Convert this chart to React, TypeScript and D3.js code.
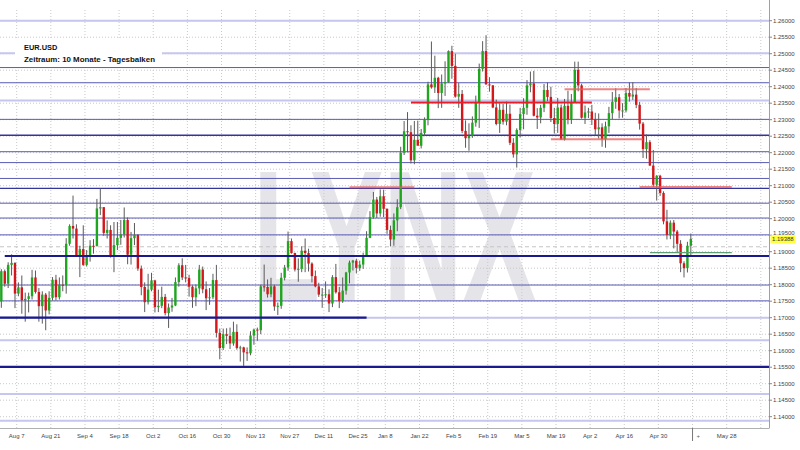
import React from "react";
import * as d3 from "d3";

// ---- data (EUR/USD daily candles, from 2017-07-31) ----
const startDate = "2017-07-31";
const holidays = ["2017-12-25", "2018-01-01"];

const opens = [
1.1750,1.1841,1.1803,1.1860,1.1866,1.1773,1.1792,1.1753,1.1757,1.1765,1.1822,1.1778,1.1735,1.1770,1.1722,1.1760,1.1815,1.1762,1.1800,1.1799,
1.1924,1.1978,1.1970,1.1888,1.1908,1.1860,1.1888,1.1918,1.1917,1.2031,1.2035,1.1957,1.1966,1.1887,1.1920,1.1942,1.1953,1.1996,1.1891,1.1941,
1.1951,1.1849,1.1793,1.1747,1.1785,1.1813,1.1732,1.1736,1.1763,1.1714,1.1731,1.1737,1.1808,1.1859,1.1822,1.1820,1.1794,1.1762,1.1789,1.1846,
1.1786,1.1759,1.1762,1.1814,1.1654,1.1608,1.1650,1.1645,1.1622,1.1657,1.1608,1.1610,1.1595,1.1592,1.1646,1.1664,1.1662,1.1795,1.1793,1.1771,
1.1795,1.1734,1.1736,1.1821,1.1852,1.1932,1.1896,1.1846,1.1848,1.1903,1.1896,1.1864,1.1826,1.1795,1.1770,1.1770,1.1771,1.1743,1.1823,1.1777,
1.1750,1.1782,1.1837,1.1867,1.1873,1.1851,1.1861,1.1889,1.1942,1.2005,1.2058,1.2016,1.2068,1.2030,1.1966,1.1937,1.1995,1.2035,1.2200,1.2265,
1.2262,1.2177,1.2239,1.2221,1.2260,1.2300,1.2407,1.2398,1.2427,1.2381,1.2410,1.2414,1.2508,1.2463,1.2370,1.2378,1.2266,1.2244,1.2251,1.2291,
1.2352,1.2454,1.2508,1.2407,1.2404,1.2337,1.2287,1.2330,1.2294,1.2318,1.2230,1.2195,1.2269,1.2317,1.2336,1.2404,1.2410,1.2312,1.2307,1.2336,
1.2390,1.2369,1.2305,1.2287,1.2337,1.2240,1.2342,1.2302,1.2353,1.2451,1.2404,1.2306,1.2322,1.2325,1.2301,1.2271,1.2277,1.2241,1.2280,1.2320,
1.2354,1.2368,1.2328,1.2328,1.2381,1.2370,1.2376,1.2345,1.2288,1.2211,1.2232,1.2161,1.2103,1.2130,1.2078,1.1992,1.1951,1.1988,1.1961,1.1924,
1.1865,1.1850,1.1918];
const highs = [
1.1847,1.1846,1.1868,1.1892,1.1868,1.1807,1.1828,1.1776,1.1776,1.1845,1.1843,1.1790,1.1780,1.1775,1.1780,1.1823,1.1830,1.1822,1.1828,1.1941,
1.1983,1.2070,1.1983,1.1918,1.1980,1.1905,1.1935,1.1938,1.2060,1.2092,1.2035,1.1995,1.1980,1.1990,1.1990,1.1996,1.2034,1.2004,1.1960,1.1987,
1.1953,1.1858,1.1807,1.1833,1.1836,1.1815,1.1785,1.1794,1.1772,1.1743,1.1760,1.1822,1.1865,1.1880,1.1860,1.1830,1.1798,1.1800,1.1860,1.1855,
1.1810,1.1790,1.1833,1.1860,1.1667,1.1667,1.1668,1.1670,1.1688,1.1680,1.1615,1.1612,1.1610,1.1659,1.1667,1.1670,1.1800,1.1861,1.1816,1.1821,
1.1800,1.1746,1.1836,1.1860,1.1961,1.1940,1.1897,1.1880,1.1916,1.1940,1.1909,1.1868,1.1843,1.1806,1.1790,1.1810,1.1786,1.1829,1.1863,1.1793,
1.1822,1.1839,1.1873,1.1875,1.1879,1.1873,1.1897,1.1962,1.2023,1.2081,1.2066,1.2089,1.2088,1.2031,1.1979,1.2016,1.2059,1.2218,1.2296,1.2323,
1.2283,1.2296,1.2297,1.2272,1.2307,1.2415,1.2537,1.2494,1.2430,1.2437,1.2477,1.2510,1.2524,1.2500,1.2411,1.2390,1.2298,1.2289,1.2310,1.2373,
1.2470,1.2538,1.2556,1.2429,1.2405,1.2361,1.2350,1.2348,1.2355,1.2346,1.2244,1.2274,1.2336,1.2365,1.2420,1.2446,1.2448,1.2335,1.2345,1.2408,
1.2413,1.2400,1.2336,1.2366,1.2346,1.2363,1.2388,1.2378,1.2476,1.2476,1.2409,1.2343,1.2336,1.2345,1.2321,1.2319,1.2289,1.2294,1.2339,1.2384,
1.2395,1.2378,1.2350,1.2396,1.2413,1.2414,1.2396,1.2354,1.2293,1.2255,1.2238,1.2208,1.2132,1.2133,1.2083,1.2027,1.1995,1.1996,1.1966,1.1935,
1.1871,1.1930,1.1955];
const lows = [
1.1730,1.1794,1.1790,1.1828,1.1729,1.1765,1.1712,1.1688,1.1716,1.1755,1.1773,1.1688,1.1682,1.1662,1.1710,1.1752,1.1752,1.1755,1.1780,1.1773,
1.1918,1.1940,1.1886,1.1823,1.1857,1.1855,1.1870,1.1894,1.1916,1.2011,1.1948,1.1940,1.1882,1.1838,1.1905,1.1921,1.1943,1.1862,1.1861,1.1920,
1.1842,1.1768,1.1717,1.1740,1.1780,1.1716,1.1717,1.1729,1.1707,1.1669,1.1718,1.1735,1.1794,1.1814,1.1807,1.1764,1.1730,1.1735,1.1771,1.1774,
1.1723,1.1739,1.1756,1.1640,1.1574,1.1602,1.1620,1.1605,1.1615,1.1603,1.1567,1.1554,1.1569,1.1586,1.1618,1.1630,1.1650,1.1779,1.1761,1.1762,
1.1721,1.1708,1.1727,1.1813,1.1842,1.1894,1.1840,1.1809,1.1838,1.1838,1.1840,1.1807,1.1792,1.1763,1.1730,1.1760,1.1717,1.1732,1.1773,1.1729,
1.1745,1.1770,1.1804,1.1843,1.1834,1.1842,1.1848,1.1884,1.1941,1.2000,1.2002,1.2006,1.2005,1.1954,1.1916,1.1918,1.1962,1.2029,1.2193,1.2201,
1.2167,1.2165,1.2224,1.2213,1.2250,1.2283,1.2394,1.2381,1.2335,1.2336,1.2372,1.2412,1.2424,1.2367,1.2336,1.2259,1.2215,1.2206,1.2245,1.2279,
1.2275,1.2446,1.2406,1.2385,1.2335,1.2283,1.2260,1.2285,1.2283,1.2223,1.2185,1.2155,1.2246,1.2271,1.2315,1.2383,1.2310,1.2272,1.2289,1.2323,
1.2356,1.2293,1.2258,1.2260,1.2240,1.2237,1.2286,1.2287,1.2351,1.2386,1.2303,1.2287,1.2305,1.2284,1.2254,1.2243,1.2218,1.2215,1.2260,1.2302,
1.2333,1.2304,1.2306,1.2322,1.2355,1.2360,1.2335,1.2270,1.2184,1.2182,1.2160,1.2096,1.2055,1.2069,1.1983,1.1937,1.1938,1.1910,1.1897,1.1838,
1.1822,1.1837,1.1885];
const closes = [
1.1841,1.1803,1.1860,1.1866,1.1773,1.1792,1.1753,1.1757,1.1765,1.1822,1.1778,1.1735,1.1770,1.1722,1.1760,1.1815,1.1762,1.1800,1.1799,1.1924,
1.1978,1.1970,1.1888,1.1908,1.1860,1.1888,1.1918,1.1917,1.2031,1.2035,1.1957,1.1966,1.1887,1.1920,1.1942,1.1953,1.1996,1.1891,1.1941,1.1951,
1.1849,1.1793,1.1747,1.1785,1.1813,1.1732,1.1736,1.1763,1.1714,1.1731,1.1737,1.1808,1.1859,1.1822,1.1820,1.1794,1.1762,1.1789,1.1846,1.1786,
1.1759,1.1762,1.1814,1.1654,1.1608,1.1650,1.1645,1.1622,1.1657,1.1608,1.1610,1.1595,1.1592,1.1646,1.1664,1.1662,1.1795,1.1793,1.1771,1.1795,
1.1734,1.1736,1.1821,1.1852,1.1932,1.1896,1.1846,1.1848,1.1903,1.1896,1.1864,1.1826,1.1795,1.1770,1.1770,1.1771,1.1743,1.1823,1.1777,1.1750,
1.1782,1.1837,1.1867,1.1873,1.1851,1.1861,1.1889,1.1942,1.2005,1.2058,1.2016,1.2068,1.2030,1.1966,1.1937,1.1995,1.2035,1.2200,1.2265,1.2262,
1.2177,1.2239,1.2221,1.2260,1.2300,1.2407,1.2398,1.2427,1.2381,1.2410,1.2414,1.2508,1.2463,1.2370,1.2378,1.2266,1.2244,1.2251,1.2291,1.2352,
1.2454,1.2508,1.2407,1.2404,1.2337,1.2287,1.2330,1.2294,1.2318,1.2230,1.2195,1.2269,1.2317,1.2336,1.2404,1.2410,1.2312,1.2307,1.2336,1.2390,
1.2369,1.2305,1.2287,1.2337,1.2240,1.2342,1.2302,1.2353,1.2451,1.2404,1.2306,1.2322,1.2325,1.2301,1.2271,1.2277,1.2241,1.2280,1.2320,1.2354,
1.2368,1.2328,1.2328,1.2381,1.2370,1.2376,1.2345,1.2288,1.2211,1.2232,1.2161,1.2103,1.2130,1.2078,1.1992,1.1951,1.1988,1.1961,1.1924,1.1865,
1.1850,1.1918,1.1939];

const lastPrice = 1.19388;

const tickLabels = ["Aug 7","Aug 21","Sep 4","Sep 18","Oct 2","Oct 16","Oct 30","Nov 13","Nov 27","Dec 11","Dec 25","Jan 8","Jan 22","Feb 5","Feb 19","Mar 5","Mar 19","Apr 2","Apr 16","Apr 30","","May 28",""];
const tickDates = ["2017-08-07","2017-08-21","2017-09-04","2017-09-18","2017-10-02","2017-10-16","2017-10-30","2017-11-13","2017-11-27","2017-12-11","2017-12-25","2018-01-08","2018-01-22","2018-02-05","2018-02-19","2018-03-05","2018-03-19","2018-04-02","2018-04-16","2018-04-30","2018-05-14","2018-05-28","2018-06-11"];
const markerDate = "2018-05-14";

const priceTicks = [1.26,1.255,1.25,1.245,1.24,1.235,1.23,1.225,1.22,1.215,1.21,1.205,1.2,1.195,1.19,1.185,1.18,1.175,1.17,1.165,1.16,1.155,1.15,1.145,1.14];

// horizontal drawn levels (price, kind)
const levelPrices = [1.2600,1.2501,1.2358,1.1700,1.1632,1.1469,1.1388, 1.2458,1.2412,1.2301,1.2203,1.2170,1.2122,1.2047,1.2002,1.1951,1.1799,1.1751, 1.2253,1.2092];
const levelKinds = ["lav","lav","lav","lav","lav","lav","lav","blue","blue","blue","blue","blue","blue","blue","blue","blue","blue","blue","dark","dark"];

// segments: price, from date, to date (null = chart edge), kind
const segPrices = [1.1887, 1.1551, 1.1700, 1.2095, 1.2352, 1.2392, 1.2241, 1.2096, 1.1897, 1.1915];
const segFrom = ["2017-08-01", null, null, "2017-12-20", "2018-01-17", "2018-03-21", "2018-03-15", "2018-04-20", "2018-04-25", null];
const segTo = [null, null, "2017-12-28", "2018-01-18", "2018-04-02", "2018-04-25", "2018-04-23", "2018-05-29", "2018-05-29", null];
const segKinds = ["navy", "navy", "navy", "lightred", "red", "lightred", "lightred", "lightred", "green", "dash"];

const styles: Record<string, { stroke: string; width: number; dash?: string; opacity?: number }> = {
  lav: { stroke: "#c6c6ee", width: 2 },
  blue: { stroke: "#5a5ab4", width: 1 },
  dark: { stroke: "#34349c", width: 1.4 },
  navy: { stroke: "#1a1a8e", width: 2.2 },
  red: { stroke: "#ee1c24", width: 2 },
  lightred: { stroke: "#ee5a5a", width: 2, opacity: 0.75 },
  green: { stroke: "#5f9f73", width: 1.3 },
  dash: { stroke: "#c4c4c4", width: 1, dash: "4,3" },
};

// ---- trading-day calendar ----
function buildDays(n: number): string[] {
  const out: string[] = [];
  const d = new Date(startDate + "T12:00:00Z");
  while (out.length < n) {
    const wd = d.getUTCDay();
    const iso = d.toISOString().slice(0, 10);
    if (wd !== 0 && wd !== 6 && !holidays.includes(iso)) out.push(iso);
    d.setUTCDate(d.getUTCDate() + 1);
  }
  return out;
}

const W = 800, H = 450;
const plotRight = 769;
const plotBottom = 428;
const plotTop = 10;

export default function App() {
  const days = buildDays(240);
  const idxOf = (iso: string) => days.findIndex((d) => d >= iso);
  const x = d3.scaleLinear().domain([0, 225.4]).range([-0.37, plotRight]);
  const y = d3.scaleLinear().domain([1.14, 1.26]).range([416.7, 20.7]);
  const cx = (i: number) => x(i + 0.5);
  const bodyW = 2.4;

  const candles = closes.map((c, i) => ({ i, o: opens[i], h: highs[i], l: lows[i], c }));

  const segX = (iso: string | null, isEnd: boolean) => {
    if (iso === null) return isEnd ? plotRight : 0;
    return cx(idxOf(iso));
  };

  const fmt = d3.format(".5f");
  const font = "'Liberation Sans', Arial, sans-serif";
  const yLast = y(lastPrice);
  const boxTop = yLast - 3.6;

  const lineEl = (k: string, p: number, x1: number, x2: number, key: string) => {
    const s = styles[k];
    return (
      <line key={key} x1={x1} x2={x2} y1={y(p)} y2={y(p)} stroke={s.stroke} strokeWidth={s.width}
        strokeDasharray={s.dash} opacity={s.opacity ?? 1} />
    );
  };

  return (
    <svg width={W} height={H} style={{ position: "absolute", left: 0, top: 0, background: "#fff" }} fontFamily={font}>
      <rect x={0} y={0} width={W} height={H} fill="#fff" />
      {/* watermark */}
      <text x={253} y={300} fontSize={186} fontWeight="bold" fill="#e5e5e9" textLength={283} lengthAdjust="spacingAndGlyphs">LYNX</text>

      {/* gridlines */}
      {priceTicks.map((p) => (
        <line key={"hg" + p} x1={0} x2={plotRight} y1={y(p)} y2={y(p)} stroke="#c9c9c9" strokeDasharray="1,2" />
      ))}
      {tickDates.map((t) => {
        const xx = x(idxOf(t));
        return <line key={"vg" + t} x1={xx} x2={xx} y1={plotTop} y2={plotBottom} stroke="#c9c9c9" strokeDasharray="1,2" />;
      })}

      {/* level lines */}
      {levelPrices.map((p, k) => lineEl(levelKinds[k], p, 0, plotRight, "lv" + k))}
      {segPrices.map((p, k) =>
        segKinds[k] === "dash" ? lineEl("dash", p, 0, plotRight, "sd" + k) : null
      )}

      {/* candles */}
      {candles.map((d) => {
        const up = d.c >= d.o;
        const top = y(Math.max(d.o, d.c));
        const bot = y(Math.min(d.o, d.c));
        return (
          <g key={"c" + d.i}>
            <line x1={cx(d.i)} x2={cx(d.i)} y1={y(d.h)} y2={y(d.l)} stroke="#5a5a5a" strokeWidth={1} />
            <rect x={cx(d.i) - bodyW / 2} y={top} width={bodyW} height={Math.max(1, bot - top)}
              fill={up ? "#1fa61f" : "#d3171b"} />
          </g>
        );
      })}

      {/* drawn segments */}
      {segPrices.map((p, k) =>
        segKinds[k] === "dash" ? null : lineEl(segKinds[k], p, segX(segFrom[k], false), segX(segTo[k], true), "sg" + k)
      )}

      {/* title box */}
      <rect x={15} y={39} width={147} height={27} fill="#fff" />
      <text x={24} y={49.5} fontSize={7.4} fontWeight="bold" fill="#111">EUR.USD</text>
      <text x={24} y={61.5} fontSize={7.9} fontWeight="bold" fill="#111">Zeitraum: 10 Monate - Tagesbalken</text>

      {/* axes */}
      <rect x={plotRight + 0.5} y={0} width={W - plotRight} height={H} fill="#fff" />
      <rect x={0} y={plotBottom} width={W} height={H - plotBottom} fill="#fff" />
      <line x1={plotRight + 0.5} x2={plotRight + 0.5} y1={0} y2={plotBottom} stroke="#a0a0a0" />
      <line x1={0} x2={plotRight + 0.5} y1={plotBottom + 0.5} y2={plotBottom + 0.5} stroke="#b0b0b0" />
      {priceTicks.map((p) => {
        const yy = y(p);
        // keep a label that would sit under the current-price box just above it
        const ty = Math.abs(yy - yLast) < 6 && yy < yLast ? boxTop - 2.3 : yy;
        return (
          <g key={"yt" + p}>
            <line x1={plotRight} x2={plotRight + 3} y1={yy} y2={yy} stroke="#888" />
            <text x={773} y={ty} dy="0.35em" fontSize={6} fill="#444">{fmt(p)}</text>
          </g>
        );
      })}
      <rect x={770.5} y={boxTop} width={25} height={8} fill="#ffff3a" />
      <text x={772} y={yLast + 0.4} dy="0.35em" fontSize={6} fill="#333">{fmt(lastPrice)}</text>

      {tickDates.map((t, k) => (
        tickLabels[k] ? (
          <text key={"xt" + t} x={x(idxOf(t))} y={438} textAnchor="middle" fontSize={6} fill="#444">{tickLabels[k]}</text>
        ) : null
      ))}
      <line x1={x(idxOf(markerDate))} x2={x(idxOf(markerDate))} y1={plotBottom} y2={441} stroke="#777" />
      <text x={x(idxOf(markerDate)) + 4} y={438} fontSize={6} fill="#666">+</text>
    </svg>
  );
}
